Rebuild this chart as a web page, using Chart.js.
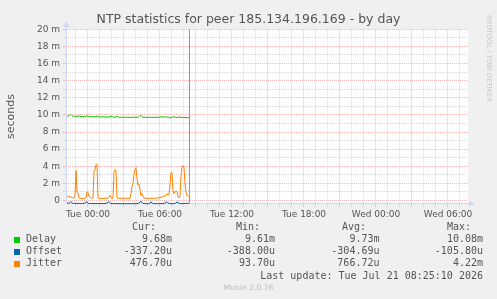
<!DOCTYPE html>
<html>
<head>
<meta charset="utf-8">
<title>NTP statistics for peer 185.134.196.169 - by day</title>
<script src="https://cdn.jsdelivr.net/npm/chart.js@4.4.1/dist/chart.umd.min.js"></script>
<style>
    html, body { margin: 0; padding: 0; background: #f0f0f0; overflow: hidden; }
    #wrap { position: relative; width: 497px; height: 299px; }
    #ntpChart { position: absolute; left: 0; top: 0; }
    .lg { position: absolute; font: 10px 'DejaVu Sans Mono', monospace; line-height: 12px; color: #555; white-space: pre; }
    .sw { position: absolute; width: 6px; height: 6px; }
    #munin { position: absolute; left: 0; width: 497px; top: 283px; text-align: center; font: 7.6px 'DejaVu Sans', sans-serif; line-height: 10px; color: #bbb; }
    #rrd { position: absolute; left: 485px; top: 15px; writing-mode: vertical-rl; font: 6.75px 'DejaVu Sans', sans-serif; line-height: 7px; color: #c4c4c4; white-space: nowrap; }
</style>
</head>
<body>
<div id="wrap">
    <canvas id="ntpChart" width="497" height="299"></canvas>
    <div id="rrd">RRDTOOL / TOBI OETIKER</div>
    <div id="munin">Munin 2.0.76</div>
</div>
<script>
// time axis in hours relative to Tue 00:00, one sample per 5 minutes
const xMin = -1.833;
const xMax = 31.667;
const startHour = -1.75;
const stepHour = 1 / 12;
const lastUpdate = 8.419; // Tue 08:25:10

const tickHours = [0, 6, 12, 18, 24, 30];
const tickLabels = ['Tue 00:00', 'Tue 06:00', 'Tue 12:00', 'Tue 18:00', 'Wed 00:00', 'Wed 06:00'];
const yMin = -0.388;
const yMax = 20;

// values in milliseconds
const delayMs = [
    9.85, 9.88, 9.90, 10.02, 10.05, 9.92, 9.84, 9.82, 9.85, 9.83,
    9.80, 9.86, 9.90, 9.82, 9.80, 9.79, 9.81, 9.80, 9.78, 9.84,
    9.90, 9.86, 9.80, 9.78, 9.77, 9.79, 9.76, 9.78, 9.80, 9.77,
    9.82, 9.88, 9.80, 9.76, 9.75, 9.77, 9.80, 9.78, 9.76, 9.74,
    9.75, 9.77, 9.74, 9.76, 9.86, 9.78, 9.75, 9.73, 9.74, 9.76,
    9.84, 9.76, 9.73, 9.72, 9.74, 9.73, 9.71, 9.72, 9.74, 9.73,
    9.72, 9.71, 9.73, 9.72, 9.70, 9.72, 9.74, 9.71, 9.72, 9.73,
    9.72, 9.74, 9.80, 9.92, 9.96, 9.78, 9.72, 9.71, 9.74, 9.72,
    9.70, 9.72, 9.73, 9.71, 9.72, 9.70, 9.71, 9.73, 9.72, 9.70,
    9.72, 9.74, 9.71, 9.76, 9.82, 9.74, 9.78, 9.72, 9.80, 9.76,
    9.72, 9.74, 9.71, 9.62, 9.73, 9.72, 9.76, 9.80, 9.74, 9.71,
    9.70, 9.72, 9.78, 9.74, 9.71, 9.70, 9.69, 9.70, 9.68, 9.69,
    9.68, 9.67, 9.68
];
const offsetMs = [
    -0.30, -0.32, -0.33, -0.25, -0.12, -0.28, -0.34, -0.35, -0.34, -0.35,
    -0.36, -0.35, -0.34, -0.35, -0.36, -0.35, -0.34, -0.35, -0.30, -0.18,
    -0.15, -0.30, -0.35, -0.36, -0.35, -0.36, -0.37, -0.36, -0.35, -0.36,
    -0.35, -0.34, -0.36, -0.37, -0.36, -0.35, -0.36, -0.37, -0.36, -0.35,
    -0.30, -0.16, -0.14, -0.28, -0.35, -0.36, -0.37, -0.36, -0.35, -0.36,
    -0.37, -0.38, -0.37, -0.36, -0.37, -0.38, -0.37, -0.36, -0.37, -0.38,
    -0.37, -0.36, -0.37, -0.38, -0.37, -0.36, -0.37, -0.38, -0.37, -0.36,
    -0.37, -0.36, -0.30, -0.18, -0.11, -0.20, -0.33, -0.36, -0.37, -0.36,
    -0.37, -0.38, -0.36, -0.30, -0.17, -0.26, -0.35, -0.37, -0.36, -0.37,
    -0.38, -0.37, -0.36, -0.37, -0.36, -0.35, -0.37, -0.36, -0.31, -0.20,
    -0.15, -0.27, -0.35, -0.36, -0.37, -0.38, -0.37, -0.36, -0.35, -0.30,
    -0.17, -0.22, -0.33, -0.36, -0.37, -0.36, -0.35, -0.34, -0.35, -0.34,
    -0.34, -0.33, -0.337
];
const jitterMs = [
    0.40, 0.45, 0.45, 0.40, 0.40, 0.35, 0.30, 0.30, 0.50, 3.50,
    1.00, 0.90, 0.30, 0.25, 0.25, 0.25, 0.25, 0.25, 0.25, 0.30,
    1.00, 0.95, 0.50, 0.40, 0.28, 0.25, 0.30, 3.30, 3.60, 4.20,
    4.25, 0.30, 0.25, 0.25, 0.25, 0.25, 0.25, 0.25, 0.25, 0.25,
    0.25, 0.25, 0.40, 0.60, 0.35, 0.25, 0.25, 3.30, 3.60, 3.50,
    0.30, 0.25, 0.25, 0.25, 0.25, 0.25, 0.28, 0.25, 0.25, 0.25,
    0.25, 0.25, 0.25, 0.25, 0.80, 1.60, 2.00, 3.00, 3.60, 3.85,
    2.60, 1.80, 1.90, 1.30, 0.60, 0.80, 0.50, 0.30, 0.28, 0.25,
    0.25, 0.25, 0.25, 0.25, 0.25, 0.25, 0.25, 0.25, 0.25, 0.28,
    0.35, 0.25, 0.28, 0.45, 0.30, 0.35, 0.50, 0.45, 0.55, 0.60,
    0.80, 0.65, 0.70, 1.80, 3.30, 3.20, 1.20, 0.80, 1.00, 1.10,
    1.05, 0.40, 0.30, 0.50, 2.80, 4.00, 4.05, 3.90, 2.00, 1.00,
    0.60, 0.50, 0.48
];

const seriesNames = ['Delay', 'Offset', 'Jitter'];
const seriesColors = ['#00cc00', '#0066b3', '#ff8000'];
const statHeaders = ['Cur:', 'Min:', 'Avg:', 'Max:'];
const statCur = ['9.68m', '-337.20u', '476.70u'];
const statMin = ['9.61m', '-388.00u', '93.70u'];
const statAvg = ['9.73m', '-304.69u', '766.72u'];
const statMax = ['10.08m', '-105.80u', '4.22m'];
const lastUpdateText = 'Last update: Tue Jul 21 08:25:10 2026';

const hours = delayMs.map((_, i) => startHour + i * stepHour);
const toPoints = vals => vals.map((v, i) => ({ x: hours[i], y: v }));

const gridMinor = '#d9d9d9';
const gridMajor = '#f5b8b8';
const fontColor = '#555555';

const canvasBg = {
    id: 'canvasBg',
    beforeDraw(chart) {
        const { ctx, chartArea: a } = chart;
        ctx.save();
        ctx.fillStyle = '#f0f0f0';
        ctx.fillRect(0, 0, chart.width, chart.height);
        ctx.fillStyle = '#ffffff';
        ctx.fillRect(a.left, a.top, a.right - a.left, a.bottom - a.top);
        ctx.restore();
    }
};

// rrdtool-style axes with arrows under the lines, rule at the last update on top
const rrdAxes = {
    id: 'rrdAxes',
    beforeDatasetsDraw(chart) {
        const { ctx, chartArea: a } = chart;
        ctx.save();
        ctx.lineWidth = 1;
        const bx = Math.floor(a.left) + 0.5;
        const by = Math.floor(a.bottom) + 0.5;
        ctx.strokeStyle = '#cfd6f8';
        ctx.fillStyle = '#cfd6f8';
        ctx.beginPath();
        ctx.moveTo(bx, by);
        ctx.lineTo(bx, a.top - 3);
        ctx.moveTo(bx, by);
        ctx.lineTo(a.right + 1, by);
        ctx.stroke();
        ctx.beginPath();
        ctx.moveTo(bx - 3, a.top - 2);
        ctx.lineTo(bx + 3, a.top - 2);
        ctx.lineTo(bx, a.top - 8);
        ctx.closePath();
        ctx.fill();
        ctx.beginPath();
        ctx.moveTo(a.right + 1, by - 3);
        ctx.lineTo(a.right + 1, by + 3);
        ctx.lineTo(a.right + 7, by);
        ctx.closePath();
        ctx.fill();
        ctx.restore();
    },
    afterDatasetsDraw(chart) {
        const { ctx, chartArea: a, scales: { x } } = chart;
        ctx.save();
        ctx.lineWidth = 1;
        const nx = Math.round(x.getPixelForValue(lastUpdate)) + 0.5;
        ctx.strokeStyle = '#999999';
        ctx.beginPath();
        ctx.moveTo(nx, a.top);
        ctx.lineTo(nx, a.bottom);
        ctx.stroke();
        ctx.restore();
    }
};

const ctx = document.getElementById('ntpChart').getContext('2d');
new Chart(ctx, {
    type: 'line',
    data: {
        datasets: [
            { label: seriesNames[0], data: toPoints(delayMs), borderColor: seriesColors[0], yAxisID: 'y', order: 3 },
            { label: seriesNames[1], data: toPoints(offsetMs), borderColor: seriesColors[1], yAxisID: 'y', order: 2, clip: 3 },
            { label: seriesNames[2], data: toPoints(jitterMs), borderColor: seriesColors[2], yAxisID: 'y', order: 1 }
        ]
    },
    options: {
        responsive: false,
        animation: false,
        devicePixelRatio: 1,
        layout: { padding: { left: 0, right: 0, top: 0, bottom: 75.2 } },
        elements: {
            point: { radius: 0 },
            line: { borderWidth: 1, tension: 0 }
        },
        plugins: {
            legend: { display: false },
            tooltip: { enabled: false },
            title: {
                display: true,
                text: 'NTP statistics for peer 185.134.196.169 - by day',
                color: fontColor,
                font: { family: 'DejaVu Sans', size: 12.5, weight: 'normal', lineHeight: 1.2 },
                padding: { top: 12, bottom: 2.3 }
            }
        },
        scales: {
            x: {
                type: 'linear',
                min: xMin,
                max: xMax,
                afterBuildTicks: s => {
                    const t = [];
                    for (let h = Math.ceil(xMin); h <= Math.floor(xMax); h++) t.push({ value: h });
                    s.ticks = t;
                },
                afterFit: s => { s.height = 20; },
                ticks: {
                    autoSkip: false,
                    maxRotation: 0,
                    padding: 2,
                    color: fontColor,
                    font: { family: 'DejaVu Sans', size: 9 },
                    callback: v => {
                        const k = tickHours.indexOf(v);
                        return k >= 0 ? tickLabels[k] : '';
                    }
                },
                grid: {
                    color: c => (c.tick && c.tick.value % 3 === 0) ? gridMajor : gridMinor,
                    tickLength: 3
                },
                border: { display: false, dash: [1, 1] }
            },
            y: {
                type: 'linear',
                position: 'left',
                min: yMin,
                max: yMax,
                afterBuildTicks: s => {
                    const t = [];
                    for (let v = 0; v <= yMax; v++) t.push({ value: v });
                    s.ticks = t;
                },
                afterFit: s => { s.width = 66; },
                ticks: {
                    autoSkip: false,
                    padding: 3,
                    color: fontColor,
                    font: { family: 'DejaVu Sans', size: 9 },
                    callback: v => v % 2 ? '' : (v === 0 ? '0' : v + ' m')
                },
                grid: {
                    color: c => (c.tick && c.tick.value % 2 === 0) ? gridMajor : gridMinor,
                    tickLength: 3
                },
                border: { display: false, dash: [1, 1] },
                title: {
                    display: true,
                    text: 'seconds',
                    color: fontColor,
                    font: { family: 'DejaVu Sans', size: 11 },
                    padding: { top: 5, bottom: 0 }
                }
            },
            yr: {
                type: 'linear',
                position: 'right',
                grid: { display: false },
                border: { display: false },
                ticks: { display: false },
                afterFit: s => { s.width = 29; }
            }
        }
    },
    plugins: [canvasBg, rrdAxes]
});

// munin-style legend table
const wrap = document.getElementById('wrap');
function addText(text, top, left, right) {
    const el = document.createElement('div');
    el.className = 'lg';
    el.textContent = text;
    el.style.top = top + 'px';
    if (left !== null) el.style.left = left + 'px';
    if (right !== null) el.style.right = (497 - right) + 'px';
    wrap.appendChild(el);
}
const headerRight = [156, 260, 366, 471];
const valueRight = [172, 275, 379.5, 483];
statHeaders.forEach((h, i) => addText(h, 221.3, null, headerRight[i]));
seriesNames.forEach((name, r) => {
    const top = 233.3 + r * 12;
    const sw = document.createElement('div');
    sw.className = 'sw';
    sw.style.left = '14px';
    sw.style.top = (top + 3.4) + 'px';
    sw.style.background = seriesColors[r];
    wrap.appendChild(sw);
    addText(name, top, 26, null);
    [statCur, statMin, statAvg, statMax].forEach((col, c) => addText(col[r], top, null, valueRight[c]));
});
addText(lastUpdateText, 269.5, null, 483);
</script>
</body>
</html>
